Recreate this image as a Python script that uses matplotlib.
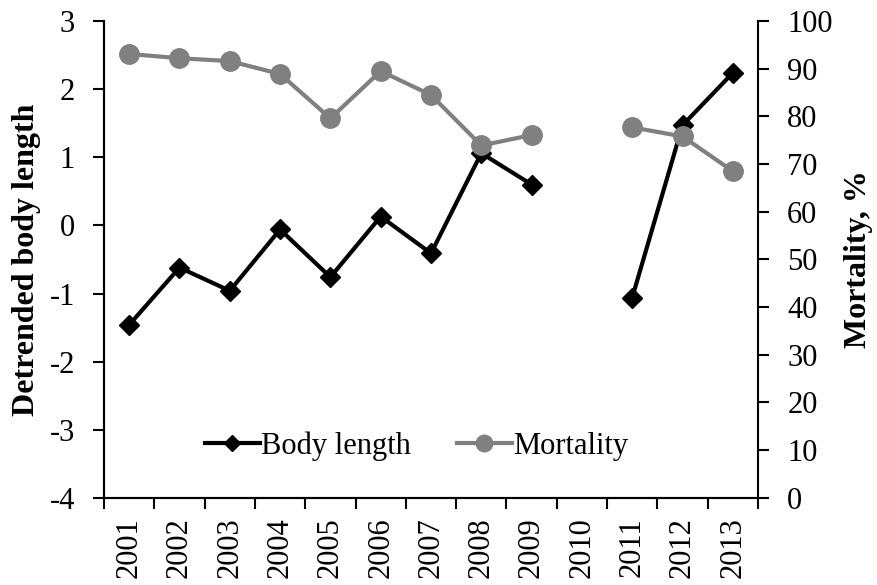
import numpy as np
import matplotlib.pyplot as plt
from matplotlib.ticker import FixedLocator

plt.rcParams['font.family'] = ['Liberation Serif', 'DejaVu Serif']
plt.rcParams['axes.unicode_minus'] = False

# Datos
years = ['2001', '2002', '2003', '2004', '2005', '2006', '2007',
         '2008', '2009', '2010', '2011', '2012', '2013']
body_length = [-1.46, -0.62, -0.96, -0.06, -0.76, 0.13, -0.41,
               1.06, 0.60, np.nan, -1.06, 1.47, 2.24]
mortality = [93.1, 92.2, 91.6, 88.9, 79.6, 89.5, 84.5,
             73.9, 76.1, np.nan, 77.7, 75.8, 68.5]

x = np.arange(len(years))
fs = 22

fig = plt.figure(figsize=(8.77, 5.85), dpi=100)
ax = fig.add_axes([0.1186, 0.149, 0.7457, 0.815])
ax2 = ax.twinx()

l1, = ax.plot(x, body_length, color='black', lw=3, marker='D', ms=10,
              label='Body length')
l2, = ax2.plot(x, mortality, color='#808080', lw=3, marker='o', ms=14,
               label='Mortality')

ax.set_xlim(-0.5, len(years) - 0.5)
ax.set_ylim(-4, 3)
ax2.set_ylim(0, 100)
ax.set_yticks(range(-4, 4))
ax2.set_yticks(range(0, 101, 10))

ax.set_xticks(x)
ax.set_xticklabels(years, rotation=90, fontsize=fs)
ax.xaxis.set_minor_locator(FixedLocator(np.arange(-0.5, len(years), 1)))
ax.tick_params(axis='x', which='major', length=0, pad=14)
ax.tick_params(axis='x', which='minor', length=8, width=1.5, direction='out')
ax.tick_params(axis='y', labelsize=fs, length=8, width=1.5, direction='out', pad=13)
ax2.tick_params(axis='y', labelsize=fs, length=8, width=1.5, direction='out', pad=13)

for a in (ax, ax2):
    a.spines['top'].set_visible(False)
    for s in ('left', 'right', 'bottom'):
        a.spines[s].set_linewidth(1.5)
ax.spines['right'].set_visible(False)

ax.set_ylabel('Detrended body length', fontsize=23, fontweight='bold', labelpad=6)
ax2.set_ylabel('Mortality, %', fontsize=23, fontweight='bold', labelpad=8)

ax.legend([l1, l2], ['Body length', 'Mortality'], loc='lower center',
          bbox_to_anchor=(0.478, 0.02), ncol=2, frameon=False, fontsize=fs,
          handlelength=1.8, handletextpad=0.05, columnspacing=1.5,
          markerscale=0.85)

plt.savefig('out.png', dpi=100)
